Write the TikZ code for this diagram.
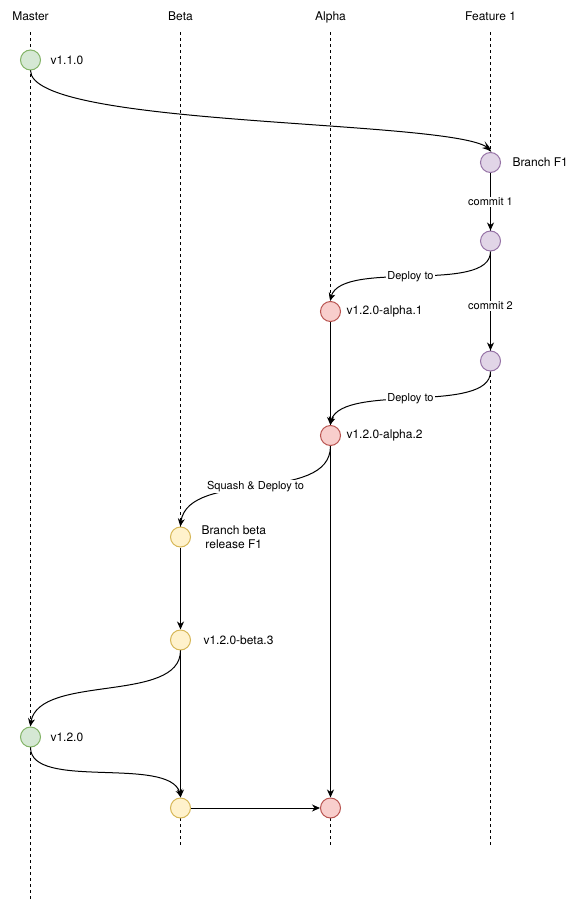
\documentclass[tikz,border=0pt]{standalone}
\usepackage{fontspec}
\setmainfont{TeX Gyre Heros}
\usetikzlibrary{arrows.meta, bending, positioning}
\definecolor{mastFill}{HTML}{D5E8D4}
\definecolor{mastLine}{HTML}{82B366}
\definecolor{betaFill}{HTML}{FFF2CC}
\definecolor{betaLine}{HTML}{D6B656}
\definecolor{alphaFill}{HTML}{F8CECC}
\definecolor{alphaLine}{HTML}{B85450}
\definecolor{featFill}{HTML}{E1D5E7}
\definecolor{featLine}{HTML}{9673A6}
\tikzstyle{gitflow}=[x=1pt, y=1pt, line width=1pt, >={Stealth[length=8pt,width=7pt,inset=2.5pt,bend]}, font=\fontsize{12}{14}\selectfont]
\tikzstyle{commit}=[circle, draw, minimum size=20pt, inner sep=0pt]
\tikzstyle{onmaster}=[commit, draw=mastLine, fill=mastFill]
\tikzstyle{onbeta}=[commit, draw=betaLine, fill=betaFill]
\tikzstyle{onalpha}=[commit, draw=alphaLine, fill=alphaFill]
\tikzstyle{onfeature}=[commit, draw=featLine, fill=featFill]
\tikzstyle{tag}=[inner sep=0pt, align=center]
\tikzstyle{edgelabel}=[fill=white, inner sep=1pt, font=\fontsize{11}{13}\selectfont]
\tikzstyle{lifeline}=[line width=0.8pt, dash pattern=on 3pt off 3pt]

\begin{document}
\begin{tikzpicture}[gitflow]
  \useasboundingbox (0,0) rectangle (571,-902);
  % branches
  \node[anchor=base] (master) at (30.5,-20.3) {Master};
  \node[anchor=base] (beta) at (180.5,-20.3) {Beta};
  \node[anchor=base] (alpha) at (330.5,-20.3) {Alpha};
  \node[anchor=base] (feat) at (490.5,-20.3) {Feature 1};
  \foreach \n/\e in {master/902, beta/845, alpha/845, feat/845}
    \draw[lifeline] (\n.south |- 0,-32) -- (\n.south |- 0,-\e);

  % commits
  \node[onmaster] (m0) at (30.5,-60) {};
  \node[onfeature] (f0) at (490.5,-162.5) {};
  \node[onfeature] (f1) [below=57.5pt of f0] {};
  \node[onfeature] (f2) [below=99pt of f1] {};
  \node[onalpha] (a0) at (330.5,-311.5) {};
  \node[onalpha] (a1) [below=103pt of a0] {};
  \node[onbeta] (b0) at (180.5,-537) {};
  \node[onbeta] (b1) [below=82pt of b0] {};
  \node[onmaster] (m1) at (30.5,-737) {};
  \node[onbeta] (b2) [below=147pt of b1] {};
  \node[onalpha] (a2) [right=129pt of b2] {};

  \node[tag] (m0t) [right=9pt of m0] {v1.1.0};
  \node[tag] (f0t) [right=11pt of f0] {Branch F1};
  \node[tag] (a0t) [right=5pt of a0] {v1.2.0-alpha.1};
  \node[tag] (a1t) [right=5pt of a1] {v1.2.0-alpha.2};
  \node[tag] (b0t) [right=10pt of b0] {Branch beta\\release F1};
  \node[tag] (b1t) [right=12pt of b1] {v1.2.0-beta.3};
  \node[tag] (m1t) [right=9pt of m1] {v1.2.0};

  \path[->] (m0) edge[out=-90, in=90, out distance=60pt, in distance=34pt] (f0);
  \path[->] (f0) edge node[edgelabel] {commit 1} (f1);
  \path[->] (f1) edge node[edgelabel, pos=0.55] {commit 2} (f2);
  \path[->] (f1) edge[out=-90, in=90, distance=45pt] node[edgelabel] {Deploy to} (a0);
  \path[->] (f2) edge[out=-90, in=90, distance=45pt] node[edgelabel] {Deploy to} (a1);
  \path[->] (a0) edge (a1);
  \path[->] (a1) edge[out=-90, in=90, distance=60pt] node[edgelabel] {Squash \& Deploy to} (b0);
  \path[->] (a1) edge (a2);
  \path[->] (b0) edge (b1);
  \path[->] (b1) edge[out=-90, in=90, distance=55pt] (m1);
  \path[->] (b1) edge (b2);
  \path[->] (m1) edge[out=-90, in=90, distance=45pt] (b2);
  \path[->] (b2) edge (a2);
\end{tikzpicture}
\end{document}
